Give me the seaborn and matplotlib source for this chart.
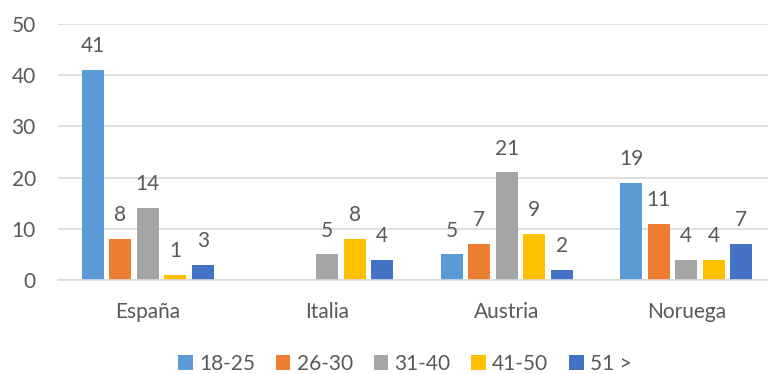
import numpy as np
import pandas as pd
import matplotlib
matplotlib.use("Agg")
import matplotlib.pyplot as plt
import seaborn as sns

# Respondents by country and age group
paises = ["España", "Italia", "Austria", "Noruega"]
edades = ["18-25", "26-30", "31-40", "41-50", "51 >"]
v_18_25 = [41, np.nan, 5, 19]
v_26_30 = [8, np.nan, 7, 11]
v_31_40 = [14, 5, 21, 4]
v_41_50 = [1, 8, 9, 4]
v_51 = [3, 4, 2, 7]
colores = ["#5B9BD5", "#ED7D31", "#A5A5A5", "#FFC000", "#4472C4"]
yticks = [0, 10, 20, 30, 40, 50]

series = [v_18_25, v_26_30, v_31_40, v_41_50, v_51]
df = pd.DataFrame(
    [(p, e, s[i]) for e, s in zip(edades, series) for i, p in enumerate(paises)],
    columns=["pais", "edad", "n"],
)

sns.set_theme(style="white")
plt.rcParams["font.family"] = ["Lato", "DejaVu Sans"]
txt = "#595959"
grid = "#D9D9D9"
fs = 15

fig = plt.figure(figsize=(7.68, 3.74), dpi=100)
ax = fig.add_axes([58 / 768, (374 - 280) / 374, 1 - 58 / 768, 256 / 374])

sns.barplot(
    data=df, x="pais", y="n", hue="edad", order=paises, hue_order=edades,
    palette=colores, width=0.766, gap=0.2, errorbar=None, ax=ax,
    saturation=1, linewidth=0,
)

ax.set_ylim(0, 50)
ax.set_xlim(-0.5, 3.5 - 8 / 179.5)
ax.set_yticks(yticks)
ax.set_yticklabels([str(t) for t in yticks])
ax.yaxis.grid(True, color=grid, linewidth=1.2)
ax.set_axisbelow(True)
for side in ["top", "right", "left"]:
    ax.spines[side].set_visible(False)
ax.spines["bottom"].set_color(grid)
ax.spines["bottom"].set_linewidth(1.2)
ax.tick_params(axis="both", length=0, labelsize=fs, labelcolor=txt)
ax.tick_params(axis="y", pad=16)
ax.tick_params(axis="x", pad=16)
ax.set_xlabel("")
ax.set_ylabel("")

for cont in ax.containers:
    labels = ["" if np.isnan(v) else f"{v:g}" for v in cont.datavalues]
    ax.bar_label(cont, labels=labels, padding=10, fontsize=fs, color=txt)

sns.move_legend(
    ax, "center", bbox_to_anchor=(405 / 768, 10 / 374),
    bbox_transform=fig.transFigure, ncol=5, frameon=False, title=None,
    fontsize=fs, handlelength=0.7, handleheight=0.7, handletextpad=0.3,
    columnspacing=1.0, labelcolor=txt,
)

fig.savefig("out.png", dpi=100)
